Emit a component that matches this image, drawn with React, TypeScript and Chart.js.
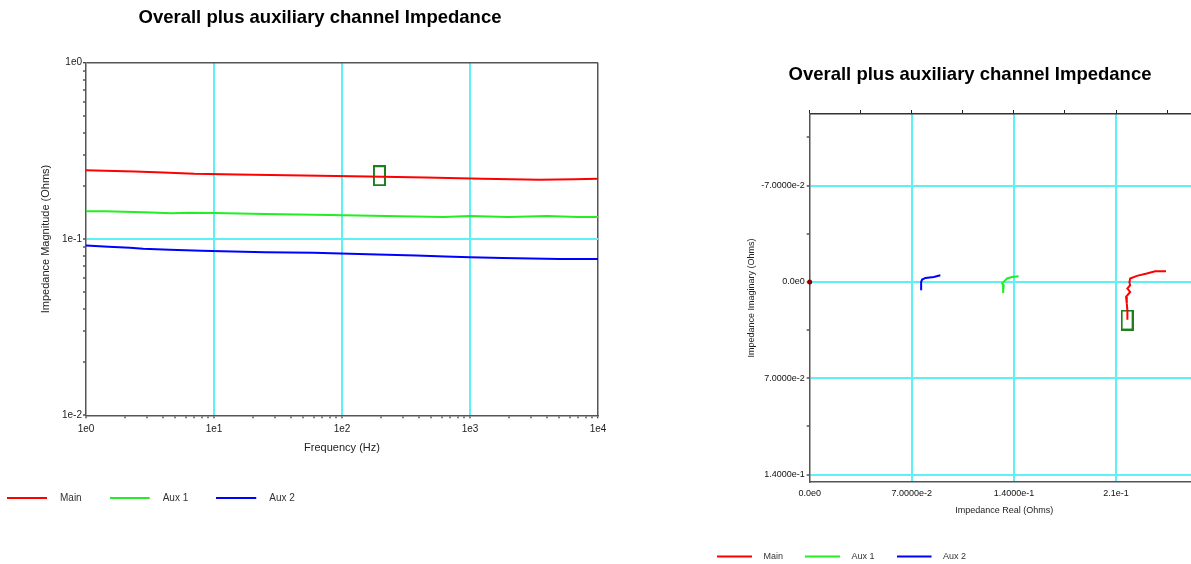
import { useEffect, useRef } from 'react';
import { Chart, registerables } from 'chart.js';

Chart.register(...registerables);

const FONT = "Arial, 'Liberation Sans', Helvetica, sans-serif";
const TITLE = 'Overall plus auxiliary channel Impedance';

const seriesNames = ['Main', 'Aux 1', 'Aux 2'];
const seriesColors = ['#ff0000', '#22ee22', '#0000ff'];
const GRID_CYAN = '#5ef0f4';
const AXIS_GRAY = '#555555';
const MARKER_GREEN = '#1f7f1f';
const NONE = 'rgba(255,255,255,0)';

// ---- Magnitude vs frequency (left chart) ----
const freqMain = [1, 1.4, 2.4, 4, 7, 15, 50, 160, 450, 1250, 3500, 6500, 10000];
const magMain = [0.2453, 0.244, 0.2417, 0.2386, 0.2346, 0.2325, 0.229, 0.2265, 0.2236, 0.2199, 0.217, 0.2185, 0.2195];
const freqAux1 = [1, 1.4, 2.8, 4.7, 6.3, 10, 25, 80, 220, 620, 1000, 2000, 4000, 7000, 10000];
const magAux1 = [0.1436, 0.1436, 0.1418, 0.1399, 0.141, 0.1403, 0.1388, 0.137, 0.1352, 0.1335, 0.135, 0.1335, 0.135, 0.1335, 0.1335];
const freqAux2 = [1, 1.5, 2.2, 2.8, 4.5, 8, 14, 25, 60, 160, 380, 640, 1000, 1800, 5000, 10000];
const magAux2 = [0.0919, 0.0905, 0.0892, 0.088, 0.0869, 0.0858, 0.085, 0.0842, 0.0836, 0.082, 0.0807, 0.0796, 0.0789, 0.0779, 0.0769, 0.0769];
const magCursor = { x: 196, y: 0.2286 };

const magXDecades = [1, 10, 100, 1000, 10000];
const magXLabels = ['1e0', '1e1', '1e2', '1e3', '1e4'];
const magYDecades = [0.01, 0.1, 1];
const magYLabels = ['1e-2', '1e-1', '1e0'];
const minorMultiples = [2, 3, 4, 5, 6, 7, 8, 9];

// ---- Nyquist (right chart) ----
const reMain = [0.2443, 0.2368, 0.2311, 0.2243, 0.2197, 0.2192, 0.2197, 0.2178, 0.2197, 0.2169, 0.2174, 0.2178, 0.2178];
const imMain = [-0.0078, -0.0078, -0.0061, -0.0044, -0.0025, 0.0004, 0.0024, 0.0048, 0.0073, 0.0109, 0.0157, 0.0206, 0.0274];
const reAux1 = [0.1432, 0.1387, 0.1353, 0.133, 0.1319, 0.133, 0.1326, 0.1326];
const imAux1 = [-0.0041, -0.0036, -0.0025, 0.0, 0.0012, 0.0024, 0.0048, 0.008];
const reAux2 = [0.0896, 0.0851, 0.0794, 0.0771, 0.0764, 0.0764];
const imAux2 = [-0.0049, -0.0036, -0.0029, -0.0017, 0.0, 0.006];
const nyqCursor = { x: 0.2176, y: 0.0277 };
const nyqOrigin = { x: 0, y: 0 };

const nyqXMin = 0;
const nyqXMax = 0.2669;
const nyqYMin = -0.122;
const nyqYMax = 0.1455;
const nyqYTicks = [-0.105, -0.07, -0.035, 0, 0.035, 0.07, 0.105, 0.14];
const nyqYLabels = ['', '-7.0000e-2', '', '0.0e0', '', '7.0000e-2', '', '1.4000e-1'];
const nyqXTicks = [0, 0.07, 0.14, 0.21];
const nyqXLabels = ['0.0e0', '7.0000e-2', '1.4000e-1', '2.1e-1'];
const nyqTopTicks = [0, 0.035, 0.07, 0.105, 0.14, 0.175, 0.21, 0.245];

function logTicks(decades: number[]) {
  const t: { value: number; major: boolean }[] = [];
  decades.forEach((d, i) => {
    t.push({ value: d, major: true });
    if (i < decades.length - 1) minorMultiples.forEach((m) => t.push({ value: d * m, major: false }));
  });
  return t;
}

function near(a: number, b: number) {
  return Math.abs(a - b) <= Math.max(Math.abs(b), 1e-9) * 1e-6;
}

function lineImage(color: string, total: number, len: number) {
  const c = document.createElement('canvas');
  c.width = total;
  c.height = 4;
  const g = c.getContext('2d')!;
  g.strokeStyle = color;
  g.lineWidth = 2;
  g.beginPath();
  g.moveTo(0, 2);
  g.lineTo(len, 2);
  g.stroke();
  return c;
}

function boxImage() {
  const c = document.createElement('canvas');
  c.width = 13;
  c.height = 21;
  const g = c.getContext('2d')!;
  g.strokeStyle = MARKER_GREEN;
  g.lineWidth = 2;
  g.strokeRect(1, 1, 11, 19);
  return c;
}

function legendOptions(images: HTMLCanvasElement[], size: number, width: number, padding: number) {
  return {
    display: true,
    position: 'bottom',
    align: 'start',
    labels: {
      usePointStyle: true,
      pointStyleWidth: width,
      padding,
      color: '#333',
      font: { family: FONT, size },
      filter: (item: any) => item.datasetIndex < 3,
      generateLabels: (chart: any) => {
        const items = (Chart as any).defaults.plugins.legend.labels.generateLabels(chart);
        return items.map((it: any) => ({ ...it, pointStyle: images[it.datasetIndex] || it.pointStyle }));
      },
    },
  };
}

const dummyRight = (w: number) => ({
  type: 'linear',
  position: 'right',
  min: 0,
  max: 1,
  grid: { display: false, drawOnChartArea: false, drawTicks: false, color: NONE },
  border: { display: false },
  ticks: { display: false },
  afterBuildTicks: (s: any) => {
    s.ticks = [];
  },
  afterFit: (s: any) => {
    s.width = w;
  },
});

function magConfig(): any {
  const imgs = seriesColors.map((c) => lineImage(c, 48, 40));
  const series = [
    { f: freqMain, m: magMain },
    { f: freqAux1, m: magAux1 },
    { f: freqAux2, m: magAux2 },
  ];
  return {
    type: 'scatter',
    data: {
      datasets: [
        ...series.map((s, i) => ({
          label: seriesNames[i],
          data: s.f.map((f, j) => ({ x: f, y: s.m[j] })),
          showLine: true,
          borderColor: seriesColors[i],
          backgroundColor: seriesColors[i],
          borderWidth: 2,
          pointRadius: 0,
          pointHoverRadius: 0,
          xAxisID: 'x',
          yAxisID: 'y',
        })),
        {
          label: 'cursor',
          data: [magCursor],
          pointStyle: boxImage(),
          pointRadius: 10,
          showLine: false,
          clip: false,
          xAxisID: 'x',
          yAxisID: 'y',
        },
      ],
    },
    options: {
      animation: false,
      responsive: true,
      maintainAspectRatio: false,
      events: [],
      layout: { padding: 0 },
      plugins: {
        title: {
          display: true,
          text: TITLE,
          color: '#000',
          font: { family: FONT, size: 18.5, weight: 'bold' },
          padding: { top: 6.8, bottom: 33.7 },
        },
        legend: legendOptions(imgs, 10, 48, 28),
        tooltip: { enabled: false },
      },
      scales: {
        x: {
          type: 'logarithmic',
          position: 'bottom',
          min: 1,
          max: 10000,
          afterBuildTicks: (s: any) => {
            s.ticks = logTicks(magXDecades);
          },
          afterFit: (s: any) => {
            s.height = 49.7;
          },
          ticks: {
            autoSkip: false,
            maxRotation: 0,
            minRotation: 0,
            padding: 4.5,
            color: '#222',
            font: { family: FONT, size: 10 },
            callback: (v: number) => {
              const i = magXDecades.findIndex((d) => near(v, d));
              return i >= 0 ? magXLabels[i] : '';
            },
          },
          grid: {
            drawTicks: true,
            tickLength: 3,
            tickColor: '#000',
            tickWidth: 1,
            lineWidth: (ctx: any) => {
              const v = ctx.tick ? ctx.tick.value : NaN;
              return near(v, 10000) ? 1.5 : 2;
            },
            color: (ctx: any) => {
              const v = ctx.tick ? ctx.tick.value : NaN;
              if (near(v, 10000)) return AXIS_GRAY;
              if (near(v, 10) || near(v, 100) || near(v, 1000)) return GRID_CYAN;
              return NONE;
            },
          },
          border: { display: true, color: AXIS_GRAY, width: 1.5 },
          title: {
            display: true,
            text: 'Frequency (Hz)',
            color: '#222',
            font: { family: FONT, size: 11 },
            padding: { top: 0, bottom: 10.4 },
          },
        },
        y: {
          type: 'logarithmic',
          position: 'left',
          min: 0.01,
          max: 1,
          afterBuildTicks: (s: any) => {
            s.ticks = logTicks(magYDecades);
          },
          afterFit: (s: any) => {
            s.width = 107;
          },
          ticks: {
            autoSkip: false,
            padding: 1,
            color: '#222',
            font: { family: FONT, size: 10 },
            callback: (v: number) => {
              const i = magYDecades.findIndex((d) => near(v, d));
              return i >= 0 ? magYLabels[i] : '';
            },
          },
          grid: {
            drawTicks: true,
            tickLength: 3,
            tickColor: '#000',
            tickWidth: 1,
            lineWidth: (ctx: any) => {
              const v = ctx.tick ? ctx.tick.value : NaN;
              return near(v, 1) ? 1.5 : 2;
            },
            color: (ctx: any) => {
              const v = ctx.tick ? ctx.tick.value : NaN;
              if (near(v, 1)) return AXIS_GRAY;
              if (near(v, 0.1)) return GRID_CYAN;
              return NONE;
            },
          },
          border: { display: true, color: AXIS_GRAY, width: 1.5 },
          title: {
            display: true,
            text: 'Impedance Magnitude (Ohms)',
            color: '#222',
            font: { family: FONT, size: 11 },
            padding: { top: 60.4, bottom: 0 },
          },
        },
        yr: dummyRight(63),
      },
    },
  };
}

function nyqConfig(): any {
  const imgs = seriesColors.map((c) => lineImage(c, 42, 35));
  const series = [
    { re: reMain, im: imMain },
    { re: reAux1, im: imAux1 },
    { re: reAux2, im: imAux2 },
  ];
  return {
    type: 'scatter',
    data: {
      datasets: [
        ...series.map((s, i) => ({
          label: seriesNames[i],
          data: s.re.map((r, j) => ({ x: r, y: s.im[j] })),
          showLine: true,
          borderColor: seriesColors[i],
          backgroundColor: seriesColors[i],
          borderWidth: 2,
          pointRadius: 0,
          pointHoverRadius: 0,
          xAxisID: 'x',
          yAxisID: 'y',
        })),
        {
          label: 'cursor',
          data: [nyqCursor],
          pointStyle: boxImage(),
          pointRadius: 10,
          showLine: false,
          clip: false,
          xAxisID: 'x',
          yAxisID: 'y',
        },
        {
          label: 'origin',
          data: [nyqOrigin],
          pointStyle: 'circle',
          pointRadius: 2.5,
          backgroundColor: '#8b0000',
          borderWidth: 0,
          showLine: false,
          clip: false,
          xAxisID: 'x',
          yAxisID: 'y',
        },
      ],
    },
    options: {
      animation: false,
      responsive: true,
      maintainAspectRatio: false,
      events: [],
      layout: { padding: 0 },
      plugins: {
        title: {
          display: true,
          text: TITLE,
          color: '#000',
          font: { family: FONT, size: 18.5, weight: 'bold' },
          padding: { top: 63.9, bottom: 23.9 },
        },
        legend: legendOptions(imgs, 9, 42, 22),
        tooltip: { enabled: false },
      },
      scales: {
        x: {
          type: 'linear',
          position: 'bottom',
          min: nyqXMin,
          max: nyqXMax,
          afterBuildTicks: (s: any) => {
            s.ticks = nyqXTicks.map((v) => ({ value: v }));
          },
          afterFit: (s: any) => {
            s.height = 47.8;
          },
          ticks: {
            autoSkip: false,
            maxRotation: 0,
            minRotation: 0,
            padding: 5.6,
            color: '#111',
            font: { family: FONT, size: 9 },
            callback: (v: number) => {
              const i = nyqXTicks.findIndex((d) => Math.abs(v - d) < 1e-9);
              return i >= 0 ? nyqXLabels[i] : '';
            },
          },
          grid: {
            drawTicks: false,
            lineWidth: 2,
            color: (ctx: any) => {
              const v = ctx.tick ? ctx.tick.value : NaN;
              return Math.abs(v) < 1e-9 ? NONE : GRID_CYAN;
            },
          },
          border: { display: true, color: AXIS_GRAY, width: 1.5 },
          title: {
            display: true,
            text: 'Impedance Real (Ohms)',
            color: '#222',
            font: { family: FONT, size: 9 },
            padding: { top: 0, bottom: 14.1 },
          },
        },
        x2: {
          type: 'linear',
          position: 'top',
          min: nyqXMin,
          max: nyqXMax,
          afterBuildTicks: (s: any) => {
            s.ticks = nyqTopTicks.map((v) => ({ value: v }));
          },
          afterFit: (s: any) => {
            s.height = 4;
          },
          ticks: { display: false, autoSkip: false },
          grid: {
            drawOnChartArea: false,
            drawTicks: true,
            tickLength: 4,
            tickColor: '#222',
            tickWidth: 1,
            color: NONE,
          },
          border: { display: true, color: '#333', width: 1.5 },
        },
        y: {
          type: 'linear',
          position: 'left',
          reverse: true,
          min: nyqYMin,
          max: nyqYMax,
          afterBuildTicks: (s: any) => {
            s.ticks = nyqYTicks.map((v, i) => ({ value: v, major: nyqYLabels[i] !== '' }));
          },
          afterFit: (s: any) => {
            s.width = 114.7;
          },
          ticks: {
            autoSkip: false,
            padding: 2,
            color: '#111',
            font: { family: FONT, size: 9 },
            callback: (v: number) => {
              const i = nyqYTicks.findIndex((d) => Math.abs(v - d) < 1e-9);
              return i >= 0 ? nyqYLabels[i] : '';
            },
          },
          grid: {
            drawTicks: true,
            tickLength: 3,
            tickColor: '#000',
            tickWidth: 1,
            lineWidth: 2,
            color: (ctx: any) => {
              const t = ctx.tick;
              if (!t) return NONE;
              return t.label !== '' && t.label !== undefined ? GRID_CYAN : NONE;
            },
          },
          border: { display: true, color: AXIS_GRAY, width: 1.5 },
          title: {
            display: true,
            text: 'Impedance Imaginary (Ohms)',
            color: '#222',
            font: { family: FONT, size: 9 },
            padding: { top: 51.3, bottom: 0 },
          },
        },
        yr: dummyRight(46),
      },
    },
  };
}

export default function App() {
  const magRef = useRef<HTMLCanvasElement>(null);
  const nyqRef = useRef<HTMLCanvasElement>(null);

  useEffect(() => {
    const c1 = new Chart(magRef.current!, magConfig());
    const c2 = new Chart(nyqRef.current!, nyqConfig());
    return () => {
      c1.destroy();
      c2.destroy();
    };
  }, []);

  return (
    <div
      style={{
        position: 'fixed',
        left: 0,
        top: 0,
        width: 1191,
        height: 564,
        overflow: 'hidden',
        background: '#fff',
      }}
    >
      <div style={{ position: 'absolute', left: -21, top: 0, width: 682, height: 513 }}>
        <canvas ref={magRef} />
      </div>
      <div style={{ position: 'absolute', left: 695, top: 0, width: 550, height: 571 }}>
        <canvas ref={nyqRef} />
      </div>
    </div>
  );
}
